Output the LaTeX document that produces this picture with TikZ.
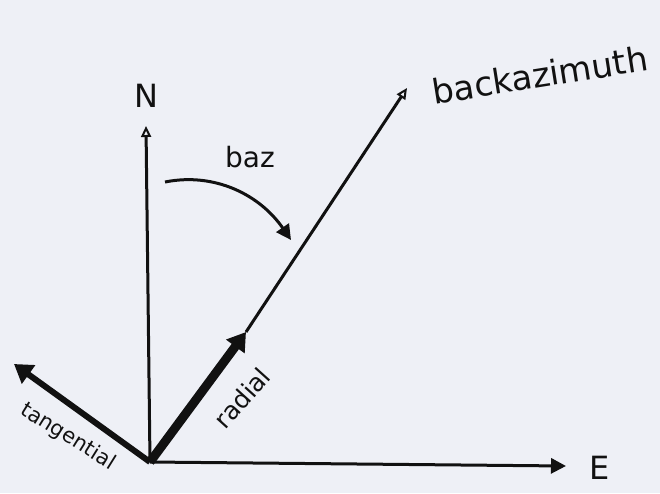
\documentclass[tikz,border=0pt]{standalone}
\usepackage{fontspec}
\setmainfont{DejaVu Sans}
\usetikzlibrary{arrows.meta}
\definecolor{paper}{HTML}{EEF0F6}
\definecolor{ink}{HTML}{111111}
\tikzset{
  axis/.style={draw=ink, line width=3pt},
  lbl/.style={text=ink, inner sep=0pt},
  opentip/.style={-{Triangle[open, length=11pt, width=10pt, line width=2pt]}},
  filltip/.style={-{Triangle[length=15pt, width=15pt]}},
}
\begin{document}
\begin{tikzpicture}[x=1pt,y=-1pt]
\useasboundingbox[fill=paper] (0,0) rectangle (660,493);
\coordinate (O) at (150,462);
\coordinate (Ntip) at (146,126);
\coordinate (Etip) at (566,466);
\coordinate (Rtip) at (246,332);
\coordinate (Btip) at (407,88);
\coordinate (Ttip) at (14,364);
\coordinate (bazs) at (165,182);
\coordinate (baze) at (291,240);
\node[lbl, font=\fontsize{32}{36}\selectfont] (N) at (146,96) {N};
\node[lbl, font=\fontsize{32}{36}\selectfont] (E) at (600,468) {E};
\node[lbl, anchor=west, rotate=9, font=\fontsize{34}{40}\selectfont] (back) at (432,92) {backazimuth};
\node[lbl, font=\fontsize{28}{32}\selectfont] (baz) at (250,157) {baz};
\node[lbl, rotate=48, font=\fontsize{25}{30}\selectfont] (radial) at (242,398) {radial};
\node[lbl, rotate=-32, font=\fontsize{21}{26}\selectfont] (tang) at (68,437) {tangential};
\draw[axis, opentip] (O) -- (Ntip);
\draw[axis, filltip] (O) -- (Etip);
\draw[axis, opentip] (Rtip) -- (Btip);
\draw[draw=ink, line width=9pt, -{Triangle[length=18pt, width=22pt]}] (O) -- (Rtip);
\draw[draw=ink, line width=6pt, -{Triangle[length=18pt, width=22pt]}] (O) -- (Ttip);
\draw[axis, filltip] (bazs) .. controls (215,172) and (260,195) .. (baze);
\end{tikzpicture}
\end{document}
